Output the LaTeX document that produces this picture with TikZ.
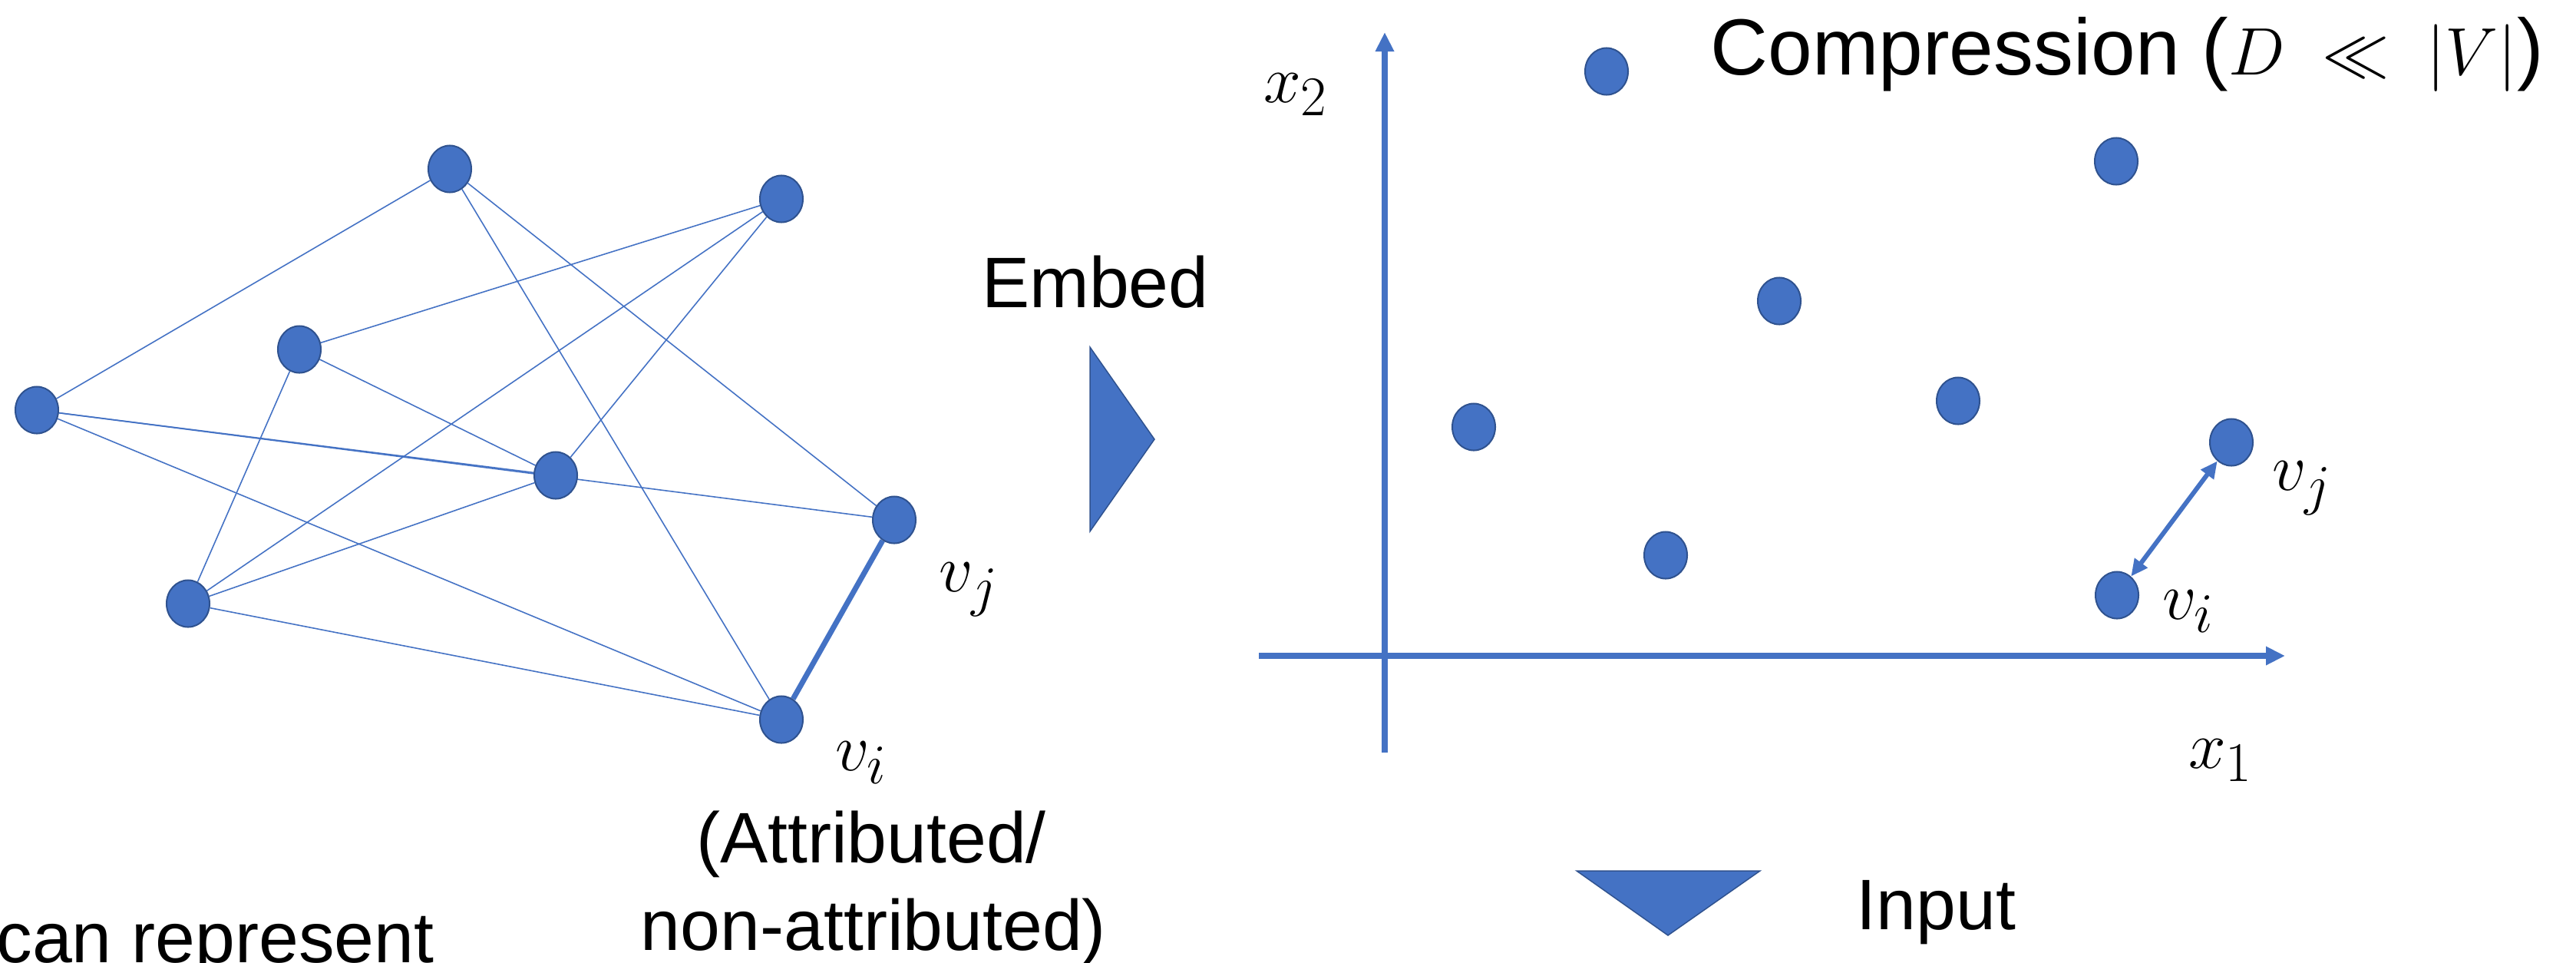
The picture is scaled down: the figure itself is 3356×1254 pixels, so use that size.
\documentclass[tikz,border=0pt]{standalone}
\usepackage{fontspec}
\setmainfont{Liberation Sans}
\usetikzlibrary{shapes.geometric,arrows.meta}
\definecolor{nodeblue}{HTML}{4472C4}
\definecolor{nodeborder}{HTML}{2F528F}
\pgfdeclarelayer{bg}
\pgfsetlayers{bg,main}
\tikzset{
  gnode/.style={ellipse, fill=nodeblue, draw=nodeborder, line width=0.02cm,
    minimum width=0.56cm, minimum height=0.61cm, inner sep=0pt},
  gedge/.style={draw=nodeblue, line width=0.45pt},
  thickedge/.style={draw=nodeblue, line width=2pt},
  axisline/.style={draw=nodeblue, line width=2.1pt, -{Triangle[length=0.25cm,width=0.23cm]}},
  distarrow/.style={draw=nodeblue, line width=1.7pt,
    {Triangle[length=0.22cm,width=0.2cm]}-{Triangle[length=0.22cm,width=0.2cm]}},
  lbl/.style={font=\fontsize{26.5}{32}\selectfont, inner sep=0pt},
  biglbl/.style={font=\fontsize{29.5}{35}\selectfont, inner sep=0pt},
  mlbl/.style={font=\fontsize{30}{36}\selectfont, inner sep=0pt},
  tri/.style={fill=nodeblue, draw=nodeborder, line width=0.015cm, line join=miter}
}
\begin{document}
\begin{tikzpicture}[x=0.01cm,y=-0.01cm]
\useasboundingbox (0,0) rectangle (3356,1254);
\clip (0,0) rectangle (3356,1254);

% ---- left graph ----
\node[gnode] (A) at (586,220) {};
\node[gnode] (B) at (1018,259) {};
\node[gnode] (C) at (390,455) {};
\node[gnode] (D) at (48,534) {};
\node[gnode] (E) at (724,619) {};
\node[gnode] (F) at (1165,677) {};
\node[gnode] (G) at (245,786) {};
\node[gnode] (H) at (1018,937) {};

\begin{pgfonlayer}{bg}
\draw[gedge] (A) -- (D);
\draw[gedge] (A) -- (H);
\draw[gedge] (A) -- (F);
\draw[gedge] (B) -- (C);
\draw[gedge] (B) -- (E);
\draw[gedge] (B) -- (G);
\draw[gedge] (C) -- (E);
\draw[gedge] (C) -- (G);
\draw[gedge] (D) -- (E);
\draw[gedge] (D) -- (F);
\draw[gedge] (D) -- (H);
\draw[gedge] (E) -- (G);
\draw[gedge] (G) -- (H);
\draw[thickedge] (F) -- (H);
\end{pgfonlayer}

\node[mlbl] (lvj) at (1262,768) {$v_j$};
\node[mlbl] (lvi) at (1122,993) {$v_i$};
\node[lbl, anchor=base] (attr1) at (1135,1123) {(Attributed/};
\node[lbl, anchor=base] (attr2) at (1138,1237) {non-attributed)};
\node[lbl, anchor=base east] (canrep) at (566,1253) {can represent};

% ---- embed arrow ----
\node[lbl, anchor=base] (embed) at (1427,400) {Embed};
\draw[tri] (1420,452) -- (1504,572) -- (1420,692) -- cycle;

% ---- right panel ----
\coordinate (ybot) at (1804,980);
\coordinate (ytop) at (1804,42);
\coordinate (xleft) at (1640,854);
\coordinate (xright) at (2977,854);
\draw[axisline] (ybot) -- (ytop);
\draw[axisline] (xleft) -- (xright);

\node[gnode] (p1) at (2093,93) {};
\node[gnode] (p2) at (2757,210) {};
\node[gnode] (p3) at (2318,392) {};
\node[gnode] (p4) at (2551,522) {};
\node[gnode] (p5) at (1920,556) {};
\node[gnode] (p6) at (2170,723) {};
\node[gnode] (rvj) at (2907,576) {};
\node[gnode] (rvi) at (2758,775) {};
\draw[distarrow] (rvi) -- (rvj);

\node[mlbl] (rvjl) at (2999,636) {$v_j$};
\node[mlbl] (rvil) at (2851,796) {$v_i$};
\node[mlbl] (x1l) at (2893,990) {$x_1$};
\node[mlbl] (x2l) at (1688,123) {$x_2$};

\node[biglbl, anchor=base west] (comp) at (2228,97) {Compression ($D \;\ll\; |V|$)};

% ---- input arrow ----
\draw[tri] (2054,1134) -- (2293,1134) -- (2173,1218) -- cycle;
\node[lbl, anchor=base west] (input) at (2418,1210) {Input};
\end{tikzpicture}
\end{document}
